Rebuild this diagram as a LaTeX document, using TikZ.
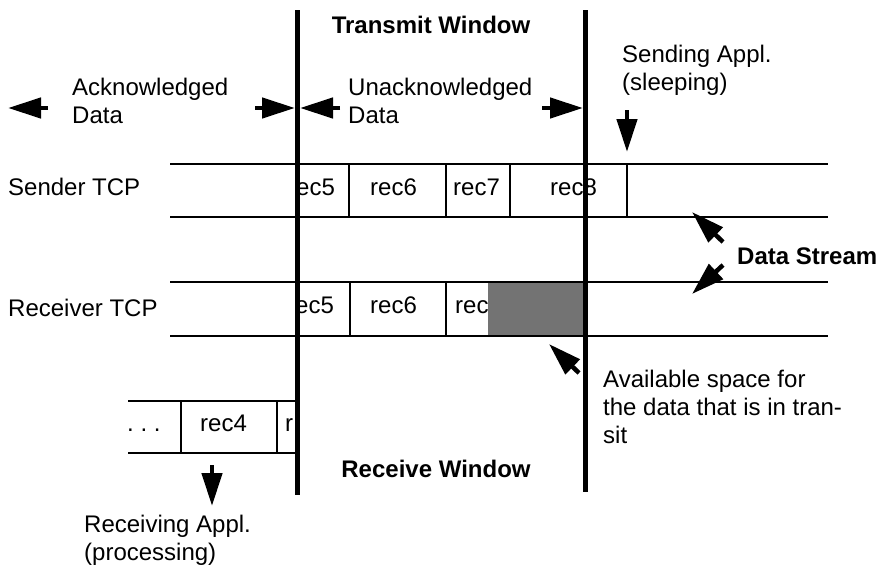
\documentclass[tikz,border=0pt]{standalone}
\usepackage{fontspec}
\setmainfont{Liberation Sans}
\usetikzlibrary{arrows.meta}

\begin{document}
\begin{tikzpicture}[x=1pt,y=-1pt,
  lbl/.style={inner sep=0pt, font=\fontsize{24}{28}\selectfont, align=left},
  ttl/.style={inner sep=0pt, font=\fontsize{24}{28}\selectfont\bfseries},
  rowline/.style={line width=1.3pt},
  winline/.style={line width=5pt},
  bigarrow/.style={line width=4.5pt, -{Triangle[length=33pt,width=20pt]}},
]
\useasboundingbox (0,0) rectangle (881,570);

% free space in the receive buffer
\fill[black!55] (488,282) rectangle (585,336);

% sender buffer
\draw[rowline] (170,164) -- (828,164);
\draw[rowline] (170,217) -- (828,217);
\foreach \x in {349,446,510,627} \draw[rowline] (\x,164) -- (\x,217);
\node[lbl, anchor=base west] (s5) at (296,195) {ec5};
\node[lbl, anchor=base west] (s6) at (370,195) {rec6};
\node[lbl, anchor=base west] (s7) at (453,195) {rec7};
\node[lbl, anchor=base west] (s8) at (550,195) {rec8};

% receiver buffer
\draw[rowline] (170,282) -- (828,282);
\draw[rowline] (170,336) -- (828,336);
\foreach \x in {350,446} \draw[rowline] (\x,282) -- (\x,336);
\node[lbl, anchor=base west] (r5) at (295,313) {ec5};
\node[lbl, anchor=base west] (r6) at (370,313) {rec6};
\node[lbl, anchor=base west] (r7) at (455,313) {rec};

% records handed to the receiving application
\draw[rowline] (128,401) -- (297,401);
\draw[rowline] (128,453) -- (297,453);
\foreach \x in {181,277} \draw[rowline] (\x,401) -- (\x,453);
\node[lbl, anchor=base west] (dots) at (127,431) {.\ .\ .};
\node[lbl, anchor=base west] (a4) at (200,431) {rec4};
\node[lbl, anchor=base west] (a3) at (285,431) {r};

% window edges
\coordinate (wlt) at (297,10);  \coordinate (wlb) at (297,495);
\coordinate (wrt) at (585,10);  \coordinate (wrb) at (585,492);
\draw[winline] (wlt) -- (wlb);
\draw[winline] (wrt) -- (wrb);

% labels
\node[lbl, anchor=base west] (stcp) at (8,195) {Sender TCP};
\node[lbl, anchor=base west] (rtcp) at (8,316) {Receiver TCP};
\node[ttl, anchor=base] (tw) at (431,33) {Transmit Window};
\node[ttl, anchor=base] (rw) at (436,477) {Receive Window};
\node[ttl, anchor=base west] (ds) at (737,264) {Data Stream};
\node[lbl, anchor=north west] (ack) at (72,78) {Acknowledged\\Data};
\node[lbl, anchor=north west] (unack) at (348,78) {Unacknowledged\\Data};
\node[lbl, anchor=north west] (sapp) at (622,45) {Sending Appl.\\(sleeping)};
\node[lbl, anchor=north west] (avail) at (603,370) {Available space for\\the data that is in tran-\\sit};
\node[lbl, anchor=north west] (rapp) at (84,515) {Receiving Appl.\\(processing)};

% arrows
\coordinate (a1s) at (48,108);  \coordinate (a1e) at (8,108);
\coordinate (a2s) at (255,108); \coordinate (a2e) at (295,108);
\coordinate (a3s) at (340,108); \coordinate (a3e) at (300,108);
\coordinate (a4s) at (542,108); \coordinate (a4e) at (583,108);
\coordinate (sas) at (627,110); \coordinate (sae) at (627,152);
\coordinate (d1s) at (723,242); \coordinate (d1e) at (692,212);
\coordinate (d2s) at (723,265); \coordinate (d2e) at (692,294);
\coordinate (avs) at (579,373); \coordinate (ave) at (549,344);
\coordinate (ras) at (212,465); \coordinate (rae) at (212,506);
\foreach \s/\e in {a1s/a1e,a2s/a2e,a3s/a3e,a4s/a4e,sas/sae,d1s/d1e,d2s/d2e,avs/ave,ras/rae}
  \draw[bigarrow] (\s) -- (\e);
\end{tikzpicture}
\end{document}
